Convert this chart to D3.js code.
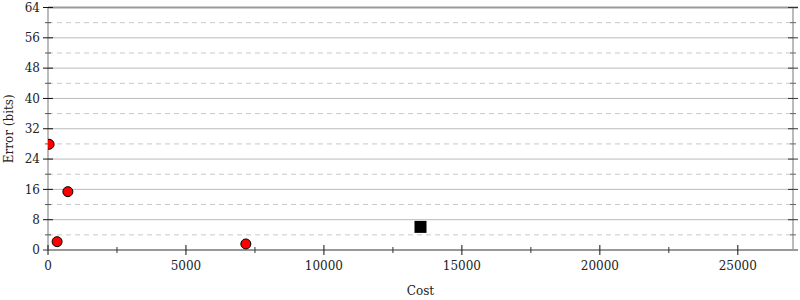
<!DOCTYPE html>
<html>
<head>
<meta charset="utf-8">
<script src="https://cdn.jsdelivr.net/npm/d3@7"></script>
<style>
  body { margin: 0; background: #fff; }
  svg { display: block; font-family: "DejaVu Serif", serif; }
</style>
</head>
<body>
<svg id="chart" width="800" height="300"></svg>
<script>
// data
var circleCost = [40, 330, 720, 7170];
var circleError = [27.9, 2.2, 15.4, 1.6];
var squareCost = [13500];
var squareError = [6.1];

var yMajor = [0, 8, 16, 24, 32, 40, 48, 56, 64];
var yMinor = [4, 12, 20, 28, 36, 44, 52, 60];
var xMajor = [0, 5000, 10000, 15000, 20000, 25000];
var xMinor = [2500, 7500, 12500, 17500, 22500];

var padLeft = 48, padRight = 793, padTop = 7.5, padBottom = 250;

var svg = d3.select("#chart");

var x = d3.scaleLinear().domain([0, 27000]).range([padLeft, padRight]);
var y = d3.scaleLinear().domain([0, 64]).range([padBottom, padTop]);

// grid
svg.append("g").selectAll("line")
  .data(yMinor).enter().append("line")
  .attr("x1", padLeft).attr("x2", padRight)
  .attr("y1", function(d) { return y(d); })
  .attr("y2", function(d) { return y(d); })
  .style("stroke", "#c8c8c8")
  .style("stroke-dasharray", "5,4");

svg.append("g").selectAll("line")
  .data(yMajor.slice(1, -1)).enter().append("line")
  .attr("x1", padLeft).attr("x2", padRight)
  .attr("y1", function(d) { return y(d); })
  .attr("y2", function(d) { return y(d); })
  .style("stroke", "#bbb");

// frame
svg.append("line").attr("x1", padLeft).attr("x2", padLeft).attr("y1", padTop).attr("y2", padBottom)
  .style("stroke", "#bbb").style("stroke-width", 2);
svg.append("line").attr("x1", padRight).attr("x2", padRight).attr("y1", padTop).attr("y2", padBottom)
  .style("stroke", "#bbb").style("stroke-width", 2);
svg.append("line").attr("x1", padLeft).attr("x2", padRight + 5).attr("y1", y(64)).attr("y2", y(64))
  .style("stroke", "#999").style("stroke-width", 2);
svg.append("line").attr("x1", padLeft - 5).attr("x2", padRight + 5).attr("y1", y(0)).attr("y2", y(0))
  .style("stroke", "#999").style("stroke-width", 2);

// y ticks, left and right
function yTicks(xpos, vals, len, col) {
  svg.append("g").selectAll("line")
    .data(vals).enter().append("line")
    .attr("x1", xpos - len).attr("x2", xpos + len)
    .attr("y1", function(d) { return y(d); })
    .attr("y2", function(d) { return y(d); })
    .style("stroke", col);
}
yTicks(padLeft, yMajor.slice(1), 5, "#111");
yTicks(padLeft, yMinor, 3, "#555");
yTicks(padRight, yMajor.slice(1), 5, "#333");
yTicks(padRight, yMinor, 3, "#666");

// x ticks
svg.append("g").selectAll("line")
  .data(xMajor).enter().append("line")
  .attr("x1", function(d) { return x(d); })
  .attr("x2", function(d) { return x(d); })
  .attr("y1", padBottom - 5).attr("y2", padBottom + 5)
  .style("stroke", "#111");
svg.append("g").selectAll("line")
  .data(xMinor).enter().append("line")
  .attr("x1", function(d) { return x(d); })
  .attr("x2", function(d) { return x(d); })
  .attr("y1", padBottom - 3).attr("y2", padBottom + 3)
  .style("stroke", "#333");

// tick labels
svg.append("g").selectAll("text")
  .data(yMajor).enter().append("text")
  .attr("x", 40)
  .attr("y", function(d) { return y(d); })
  .attr("dy", "0.36em")
  .attr("text-anchor", "end")
  .style("font-size", "12px")
  .style("fill", "#222")
  .text(function(d) { return d; });

svg.append("g").selectAll("text")
  .data(xMajor).enter().append("text")
  .attr("x", function(d) { return x(d); })
  .attr("y", 270)
  .attr("text-anchor", "middle")
  .style("font-size", "12px")
  .style("fill", "#222")
  .text(function(d) { return d; });

svg.append("text")
  .attr("x", (padLeft + padRight) / 2).attr("y", 295)
  .attr("text-anchor", "middle")
  .style("font-size", "12px")
  .style("fill", "#222")
  .text("Cost");

svg.append("text")
  .attr("transform", "translate(13," + ((padTop + padBottom) / 2) + ") rotate(-90)")
  .attr("text-anchor", "middle")
  .style("font-size", "12px")
  .style("fill", "#222")
  .text("Error (bits)");

// points
svg.append("clipPath").attr("id", "plot")
  .append("rect").attr("x", padLeft).attr("y", padTop)
  .attr("width", padRight - padLeft).attr("height", padBottom - padTop);

var pts = svg.append("g").attr("clip-path", "url(#plot)");

pts.selectAll("circle")
  .data(circleCost).enter().append("circle")
  .attr("cx", function(d) { return x(d); })
  .attr("cy", function(d, i) { return y(circleError[i]); })
  .attr("r", 5)
  .style("fill", "#f00")
  .style("stroke", "#000")
  .style("stroke-width", 1);

pts.selectAll("rect")
  .data(squareCost).enter().append("rect")
  .attr("x", function(d) { return x(d) - 6; })
  .attr("y", function(d, i) { return y(squareError[i]) - 6; })
  .attr("width", 12).attr("height", 12)
  .style("fill", "#000");
</script>
</body>
</html>
